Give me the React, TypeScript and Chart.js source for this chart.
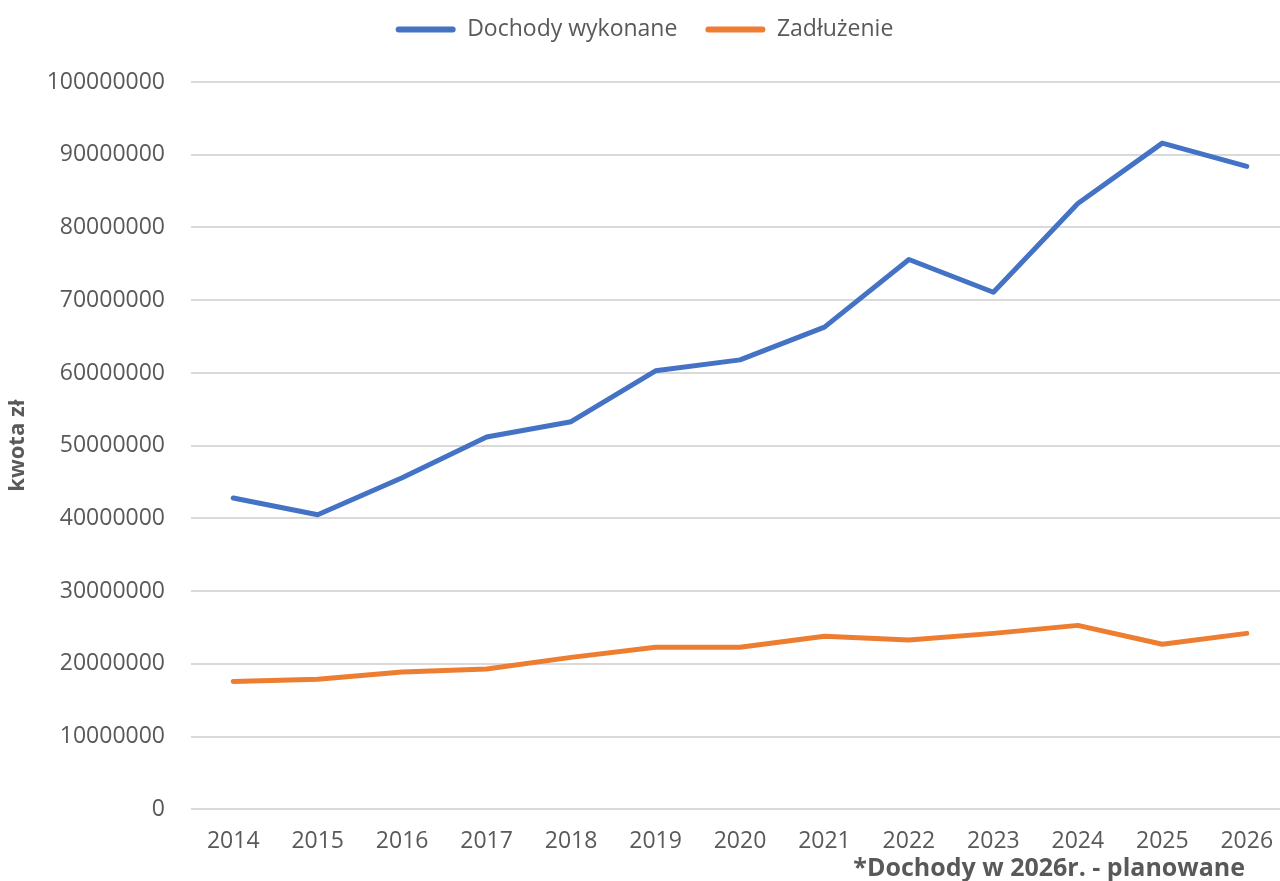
import React, { useEffect, useRef } from "react";
import { Chart, registerables } from "chart.js";

Chart.register(...registerables);

const years = ["2014", "2015", "2016", "2017", "2018", "2019", "2020", "2021", "2022", "2023", "2024", "2025", "2026"];
const dochody = [42800000, 40500000, 45600000, 51200000, 53300000, 60300000, 61800000, 66300000, 75600000, 71100000, 83300000, 91600000, 88400000];
const zadluzenie = [17600000, 17900000, 18900000, 19300000, 20900000, 22300000, 22300000, 23800000, 23300000, 24200000, 25300000, 22700000, 24200000];
const seriesNames = ["Dochody wykonane", "Zadłużenie"];
const yAxisTitle = "kwota zł";
const footnote = "*Dochody w 2026r. - planowane";

const FONT = "'Open Sans', sans-serif";
const GRAY = "#595959";

export default function App() {
  const ref = useRef<HTMLCanvasElement | null>(null);

  useEffect(() => {
    if (!ref.current) return;
    const chart = new Chart(ref.current, {
      type: "line",
      data: {
        labels: years,
        datasets: [
          {
            label: seriesNames[0],
            data: dochody,
            borderColor: "#4472C4",
            backgroundColor: "#4472C4",
            borderWidth: 5,
            pointRadius: 0,
            tension: 0,
            borderCapStyle: "round",
            borderJoinStyle: "round",
          },
          {
            label: seriesNames[1],
            data: zadluzenie,
            borderColor: "#ED7D31",
            backgroundColor: "#ED7D31",
            borderWidth: 5,
            pointRadius: 0,
            tension: 0,
            borderCapStyle: "round",
            borderJoinStyle: "round",
          },
        ],
      },
      options: {
        animation: false,
        responsive: false,
        maintainAspectRatio: false,
        layout: { padding: { top: -10, right: 6, bottom: 16, left: 0 } },
        plugins: {
          legend: {
            position: "top",
            labels: {
              color: GRAY,
              font: { family: FONT, size: 23 },
              boxWidth: 60,
              boxHeight: 6,
              padding: 28,
              useBorderRadius: true,
              borderRadius: 3,
              generateLabels: (c: any) =>
                c.data.datasets.map((d: any, i: number) => ({
                  text: d.label,
                  fillStyle: d.borderColor,
                  strokeStyle: d.borderColor,
                  lineWidth: 0,
                  hidden: false,
                  datasetIndex: i,
                  borderRadius: 3,
                  fontColor: GRAY,
                })),
            },
          },
          subtitle: {
            display: true,
            position: "top",
            weight: 500,
            text: " ",
            font: { size: 10 },
            padding: { top: 0, bottom: 19 },
          },
          tooltip: { enabled: false },
        },
        scales: {
          x: {
            offset: true,
            grid: { display: false },
            border: { display: false },
            ticks: { color: GRAY, font: { family: FONT, size: 23 }, padding: 10, maxRotation: 0 },
          },
          y: {
            min: 0,
            max: 100000000,
            border: { display: false },
            grid: { color: "#d9d9d9", lineWidth: 2, drawTicks: false },
            ticks: {
              stepSize: 10000000,
              color: GRAY,
              padding: 26,
              font: { family: FONT, size: 23 },
              callback: (v: any) => String(v),
            },
            title: {
              display: true,
              text: yAxisTitle,
              color: GRAY,
              font: { family: FONT, size: 22, weight: "bold" },
              padding: { top: 5, bottom: 0 },
            },
            afterFit: (s: any) => {
              s.width = 191;
            },
          },
        },
      },
    });
    return () => chart.destroy();
  }, []);

  return (
    <div style={{ position: "fixed", left: 0, top: 0, width: 1280, height: 881, overflow: "hidden", background: "#fff" }}>
      <canvas ref={ref} width={1295} height={881} style={{ display: "block", width: 1295, height: 881 }} />
      <div
        style={{
          position: "absolute",
          right: 1280 - 1245,
          top: 851,
          fontFamily: FONT,
          fontWeight: "bold",
          fontSize: 25,
          color: GRAY,
          whiteSpace: "nowrap",
          lineHeight: "30px",
        }}
      >
        {footnote}
      </div>
    </div>
  );
}
